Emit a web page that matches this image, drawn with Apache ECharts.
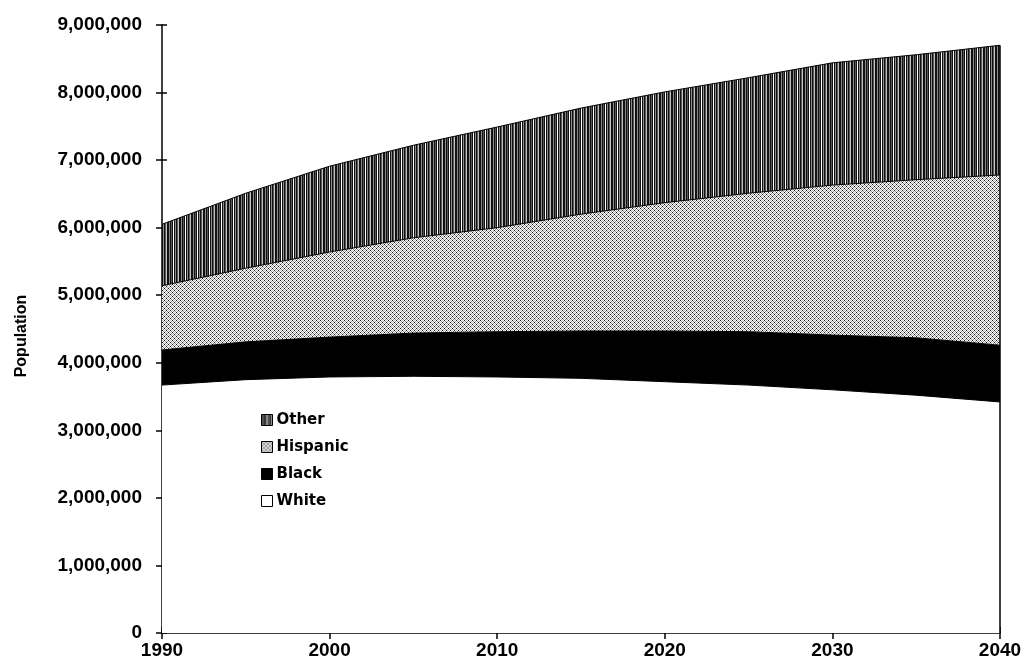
<!DOCTYPE html>
<html>
<head>
<meta charset="utf-8">
<script src="https://cdn.jsdelivr.net/npm/echarts@6/dist/echarts.min.js"></script>
<style>
html,body{margin:0;padding:0;background:#fff;}
#chart{width:1025px;height:668px;}
</style>
</head>
<body>
<div id="chart"></div>
<script>
// ---- data ----
const years = ['1990', '1995', '2000', '2005', '2010', '2015', '2020', '2025', '2030', '2035', '2040'];
const white    = [3670000, 3750000, 3790000, 3800000, 3790000, 3770000, 3720000, 3670000, 3600000, 3520000, 3420000];
const black    = [520000, 560000, 590000, 640000, 670000, 700000, 750000, 790000, 810000, 850000, 840000];
const hispanic = [950000, 1090000, 1260000, 1410000, 1540000, 1730000, 1900000, 2050000, 2220000, 2340000, 2520000];
const other    = [910000, 1110000, 1270000, 1370000, 1490000, 1570000, 1640000, 1710000, 1810000, 1850000, 1920000];
const seriesNames = ['White', 'Black', 'Hispanic', 'Other'];
const legendOrder = ['Other', 'Hispanic', 'Black', 'White'];
const yTicks = {min: 0, max: 9000000, interval: 1000000};

// ---- patterns ----
function makePattern(w, h, cols) {
  const c = document.createElement('canvas');
  c.width = w; c.height = h;
  const ctx = c.getContext('2d');
  for (let y = 0; y < h; y++) {
    for (let x = 0; x < w; x++) {
      ctx.fillStyle = cols[y][x];
      ctx.fillRect(x, y, 1, 1);
    }
  }
  return {image: c, repeat: 'repeat'};
}
const K = '#111', G = '#8c8c8c', L = '#c4c4c4', W = '#ffffff', D = '#5a5a5a';
const otherRow = [K, G, K, D, K, W, K, G, K, D, L, K];
const otherPat = makePattern(12, 1, [otherRow]);
const hispPat = makePattern(4, 4, [
  [K, W, L, W],
  [W, G, W, G],
  [L, W, K, W],
  [W, G, W, G]
]);
const fills = {White: '#ffffff', Black: '#000000', Hispanic: hispPat, Other: otherPat};
const values = {White: white, Black: black, Hispanic: hispanic, Other: other};

const series = seriesNames.map(n => ({
  name: n,
  type: 'line',
  stack: 'total',
  showSymbol: false,
  symbol: 'none',
  data: values[n],
  lineStyle: {color: '#000', width: 1},
  itemStyle: {color: fills[n], borderColor: '#000', borderWidth: 1},
  areaStyle: {color: fills[n], opacity: 1},
  emphasis: {disabled: true}
}));
// right-hand edge of the stacked area, from the last category's total
const lastIdx = years.length - 1;
const lastTotal = seriesNames.reduce((s, n) => s + values[n][lastIdx], 0);
series.push({
  name: 'edge', type: 'line', showSymbol: false, symbol: 'none', silent: true,
  data: [[years[lastIdx], 0], [years[lastIdx], lastTotal]],
  lineStyle: {color: '#000', width: 1.5}, z: 3
});

const labelFont = {fontFamily: 'Liberation Sans, Arial, sans-serif', fontWeight: 'bold', fontSize: 19, color: '#000'};
const chart = echarts.init(document.getElementById('chart'), null, {renderer: 'canvas'});
chart.setOption({
  animation: false,
  backgroundColor: '#fff',
  grid: {left: 162, right: 25, top: 25, bottom: 35, containLabel: false},
  legend: {
    data: legendOrder,
    orient: 'vertical',
    left: 256, top: 404,
    icon: 'rect',
    itemWidth: 11, itemHeight: 11,
    itemGap: 5,
    itemStyle: {borderColor: '#000', borderWidth: 1},
    textStyle: {fontFamily: 'DejaVu Sans, Verdana, sans-serif', fontSize: 15, fontWeight: 'bold', color: '#000', padding: [0, 0, 6, -1], lineHeight: 16},
    selectedMode: false
  },
  xAxis: [{
    type: 'category', data: years, boundaryGap: false,
    axisLine: {show: true, onZero: false, lineStyle: {color: '#000', width: 1.5}},
    axisTick: {show: true, interval: 1, length: 6, lineStyle: {color: '#000', width: 1.5}},
    axisLabel: Object.assign({interval: 1, margin: 8}, labelFont),
    splitLine: {show: false}
  }, {
    type: 'category', data: years, boundaryGap: false, position: 'bottom',
    axisLine: {show: false, onZero: false},
    axisTick: {show: true, interval: 1, inside: true, length: 6, lineStyle: {color: '#000', width: 1.5}},
    axisLabel: {show: false}, splitLine: {show: false}
  }],
  yAxis: [{
    type: 'value', min: yTicks.min, max: yTicks.max, interval: yTicks.interval,
    name: 'Population', nameLocation: 'middle', nameGap: 132, nameRotate: 90,
    nameTextStyle: {fontFamily: 'Liberation Sans, Arial, sans-serif', fontWeight: 'bold', fontSize: 16, color: '#000', padding: [0, 14, 0, 0]},
    axisLine: {show: true, lineStyle: {color: '#000', width: 1.5}},
    axisTick: {show: true, length: 6, lineStyle: {color: '#000', width: 1.5}},
    axisLabel: Object.assign({margin: 20, formatter: v => v.toLocaleString('en-US')}, labelFont),
    splitLine: {show: false}
  }, {
    type: 'value', min: yTicks.min, max: yTicks.max, interval: yTicks.interval, position: 'left',
    axisLine: {show: false},
    axisTick: {show: true, inside: true, length: 5, lineStyle: {color: '#000', width: 1.5}},
    axisLabel: {show: false}, splitLine: {show: false}
  }],
  series: series
});
</script>
</body>
</html>
